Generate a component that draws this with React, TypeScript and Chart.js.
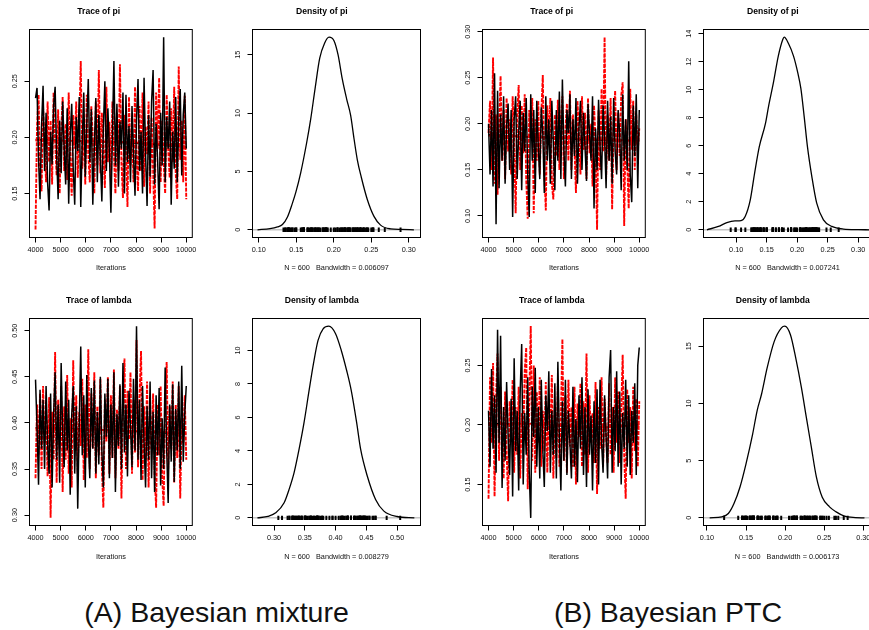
import React, { useEffect, useRef } from "react";
import { Chart, registerables } from "chart.js";

Chart.register(...registerables);

// ---------------- data ----------------
const ITERATIONS = Array.from({ length: 101 }, (_, i) => 4000 + 60 * i);
const SMOOTH_ITERATIONS = [4000, 5500, 7000, 8500, 10000];
const ITERATION_TICKS = [4000, 5000, 6000, 7000, 8000, 9000, 10000];

// (A) Bayesian mixture — pi
const A_PI_CHAIN1 = [0.235,0.244,0.180,0.145,0.210,0.246,0.170,0.222,0.160,0.135,
0.205,0.176,0.228,0.245,0.185,0.145,0.215,0.168,0.232,0.190,
0.158,0.226,0.141,0.200,0.230,0.172,0.140,0.218,0.188,0.236,
0.138,0.196,0.240,0.165,0.212,0.252,0.178,0.225,0.140,0.192,
0.235,0.160,0.220,0.182,0.143,0.208,0.250,0.170,0.226,0.188,
0.133,0.202,0.268,0.175,0.230,0.156,0.214,0.190,0.240,0.150,
0.238,0.178,0.210,0.160,0.228,0.186,0.148,0.215,0.252,0.170,
0.205,0.150,0.253,0.186,0.139,0.220,0.165,0.232,0.260,0.158,
0.212,0.180,0.136,0.222,0.175,0.289,0.160,0.218,0.190,0.232,
0.140,0.205,0.172,0.236,0.160,0.215,0.243,0.166,0.220,0.240,
0.190];
const A_PI_CHAIN2 = [0.118,0.210,0.238,0.172,0.152,0.228,0.195,0.160,0.232,0.178,
0.215,0.158,0.240,0.196,0.166,0.225,0.150,0.205,0.236,0.170,
0.212,0.162,0.240,0.182,0.148,0.220,0.190,0.232,0.164,0.210,
0.268,0.172,0.215,0.158,0.238,0.185,0.160,0.228,0.200,0.150,
0.232,0.175,0.260,0.168,0.222,0.190,0.155,0.245,0.178,0.214,
0.160,0.232,0.186,0.150,0.222,0.170,0.265,0.178,0.146,0.220,
0.192,0.138,0.236,0.175,0.210,0.160,0.245,0.186,0.152,0.228,
0.170,0.240,0.156,0.210,0.185,0.232,0.150,0.218,0.172,0.119,
0.240,0.190,0.253,0.160,0.215,0.178,0.150,0.238,0.190,0.164,
0.226,0.178,0.245,0.168,0.145,0.263,0.180,0.215,0.160,0.237,
0.145];
const A_PI_SMOOTH1 = [0.198, 0.197, 0.196, 0.194, 0.191];
const A_PI_SMOOTH2 = [0.197, 0.197, 0.196, 0.195, 0.192];
const A_PI_DENS_X = [0.0984,0.115,0.125,0.1316,0.1383,0.1445,0.1494,0.156,0.164,0.1693,0.1751,0.1813,0.1879,0.1937,0.2003,0.2057,0.2114,0.2172,0.2225,0.227,0.2314,0.2367,0.2447,0.2536,0.2624,0.2757,0.29,0.3068];
const A_PI_DENS_Y = [0,0.1,0.25,0.45,1.1,2.2,3.2,4.9,7.5,9.5,12.1,14.7,16.0,16.5,16.2,15.0,12.9,11.2,9.8,7.8,6.0,4.5,2.6,1.15,0.4,0.08,0.03,0];

// (A) Bayesian mixture — lambda
const A_LAMBDA_CHAIN1 = [0.447,0.395,0.333,0.436,0.372,0.425,0.350,0.440,0.378,0.345,
0.432,0.330,0.410,0.455,0.360,0.420,0.335,0.465,0.390,0.352,
0.445,0.370,0.425,0.322,0.408,0.440,0.345,0.418,0.307,0.400,
0.483,0.365,0.430,0.330,0.452,0.380,0.340,0.438,0.372,0.446,
0.345,0.412,0.355,0.450,0.370,0.330,0.432,0.385,0.448,0.340,
0.420,0.362,0.455,0.325,0.410,0.375,0.442,0.350,0.465,0.368,
0.420,0.342,0.435,0.395,0.352,0.448,0.370,0.505,0.360,0.425,
0.338,0.440,0.378,0.330,0.418,0.360,0.445,0.340,0.412,0.325,
0.430,0.365,0.438,0.332,0.405,0.350,0.460,0.372,0.313,0.420,
0.358,0.442,0.336,0.415,0.370,0.445,0.350,0.462,0.358,0.410,
0.440];
const A_LAMBDA_CHAIN2 = [0.340,0.420,0.365,0.432,0.350,0.440,0.378,0.415,0.342,0.428,
0.297,0.412,0.360,0.477,0.335,0.425,0.372,0.440,0.325,0.418,
0.360,0.452,0.345,0.405,0.330,0.468,0.370,0.430,0.345,0.412,
0.375,0.448,0.338,0.420,0.362,0.480,0.350,0.432,0.372,0.455,
0.340,0.418,0.365,0.448,0.352,0.308,0.425,0.380,0.450,0.345,
0.430,0.362,0.458,0.340,0.415,0.372,0.440,0.318,0.420,0.470,
0.350,0.435,0.382,0.455,0.345,0.425,0.368,0.490,0.352,0.430,
0.478,0.338,0.418,0.360,0.445,0.330,0.412,0.372,0.432,0.345,
0.308,0.420,0.365,0.440,0.340,0.310,0.425,0.466,0.350,0.418,
0.372,0.445,0.335,0.420,0.362,0.440,0.318,0.405,0.378,0.430,
0.360];
const A_LAMBDA_SMOOTH1 = [0.395, 0.394, 0.392, 0.390, 0.388];
const A_LAMBDA_SMOOTH2 = [0.394, 0.393, 0.392, 0.391, 0.389];
const A_LAMBDA_DENS_X = [0.273,0.29,0.3028,0.3164,0.3245,0.3326,0.3407,0.3488,0.3569,0.364,0.3715,0.38,0.389,0.4,0.4093,0.418,0.4255,0.4342,0.4407,0.4515,0.465,0.4785,0.5,0.528];
const A_LAMBDA_DENS_Y = [0,0.08,0.3,0.9,1.7,2.7,4.1,5.7,7.6,9.2,10.6,11.3,11.45,11.0,10.0,8.8,7.6,5.7,4.1,2.5,1.1,0.4,0.08,0];

// (B) Bayesian PTC — pi
const B_PI_CHAIN1 = [0.200,0.145,0.215,0.132,0.255,0.091,0.236,0.130,0.210,0.160,
0.230,0.135,0.198,0.222,0.150,0.215,0.099,0.205,0.230,0.140,
0.190,0.225,0.128,0.212,0.170,0.228,0.145,0.099,0.232,0.160,
0.215,0.125,0.225,0.175,0.140,0.218,0.190,0.125,0.230,0.160,
0.205,0.135,0.225,0.178,0.128,0.215,0.160,0.235,0.140,0.248,
0.170,0.132,0.215,0.190,0.232,0.140,0.205,0.165,0.228,0.135,
0.196,0.225,0.150,0.212,0.175,0.138,0.222,0.190,0.160,0.230,
0.108,0.195,0.150,0.226,0.175,0.140,0.220,0.185,0.130,0.225,
0.160,0.208,0.135,0.228,0.170,0.145,0.215,0.190,0.128,0.232,
0.160,0.205,0.150,0.268,0.145,0.115,0.220,0.165,0.232,0.130,
0.215];
const B_PI_CHAIN2 = [0.190,0.225,0.150,0.272,0.135,0.210,0.123,0.198,0.252,0.160,
0.215,0.140,0.228,0.170,0.205,0.145,0.230,0.180,0.103,0.210,
0.242,0.150,0.220,0.168,0.232,0.140,0.097,0.215,0.185,0.228,
0.103,0.205,0.160,0.225,0.145,0.210,0.253,0.150,0.106,0.220,
0.180,0.228,0.135,0.118,0.210,0.165,0.226,0.150,0.205,0.230,
0.140,0.195,0.222,0.160,0.236,0.150,0.210,0.175,0.125,0.225,
0.190,0.145,0.230,0.172,0.212,0.140,0.228,0.168,0.200,0.132,
0.220,0.180,0.085,0.215,0.150,0.238,0.170,0.294,0.140,0.210,
0.160,0.228,0.107,0.200,0.236,0.150,0.212,0.165,0.230,0.245,
0.089,0.205,0.160,0.108,0.238,0.172,0.225,0.150,0.210,0.170,
0.195];
const B_PI_SMOOTH1 = [0.188, 0.186, 0.184, 0.182, 0.182];
const B_PI_SMOOTH2 = [0.187, 0.186, 0.185, 0.183, 0.181];
const B_PI_DENS_X = [0.052,0.071,0.0847,0.098,0.108,0.1147,0.1229,0.13,0.1377,0.148,0.153,0.161,0.169,0.1765,0.1786,0.1857,0.194,0.201,0.206,0.2114,0.2169,0.224,0.232,0.243,0.2568,0.276,0.30,0.318];
const B_PI_DENS_Y = [0,0.24,0.52,0.64,0.66,0.95,2.1,4.0,5.9,7.6,8.8,10.5,12.4,13.6,13.75,13.3,12.4,11.2,10.1,8.1,5.9,3.8,1.9,0.71,0.24,0.05,0.01,0];

// (B) Bayesian PTC — lambda
const B_LAMBDA_CHAIN1 = [0.212,0.165,0.247,0.180,0.225,0.160,0.280,0.185,0.275,0.147,
0.215,0.170,0.236,0.190,0.158,0.222,0.140,0.256,0.178,0.212,
0.145,0.228,0.268,0.150,0.210,0.175,0.240,0.160,0.122,0.232,
0.190,0.248,0.165,0.215,0.155,0.238,0.180,0.148,0.225,0.195,
0.245,0.160,0.212,0.175,0.235,0.155,0.253,0.188,0.145,0.220,
0.170,0.238,0.158,0.212,0.185,0.155,0.232,0.165,0.205,0.152,
0.225,0.180,0.240,0.158,0.215,0.148,0.230,0.175,0.208,0.145,
0.220,0.168,0.230,0.150,0.238,0.185,0.160,0.225,0.190,0.155,
0.240,0.263,0.160,0.215,0.178,0.245,0.165,0.228,0.150,0.210,
0.180,0.238,0.165,0.225,0.158,0.212,0.185,0.235,0.158,0.250,
0.265];
const B_LAMBDA_CHAIN2 = [0.138,0.240,0.185,0.252,0.140,0.225,0.260,0.170,0.232,0.190,
0.155,0.228,0.178,0.136,0.220,0.190,0.238,0.160,0.215,0.175,
0.232,0.155,0.210,0.185,0.245,0.265,0.146,0.220,0.283,0.170,
0.250,0.160,0.228,0.185,0.240,0.165,0.212,0.178,0.236,0.160,
0.220,0.190,0.242,0.155,0.215,0.172,0.235,0.165,0.205,0.272,
0.170,0.225,0.160,0.238,0.182,0.215,0.165,0.232,0.150,0.218,
0.190,0.235,0.165,0.220,0.175,0.260,0.160,0.225,0.185,0.210,
0.168,0.236,0.142,0.215,0.180,0.240,0.165,0.222,0.190,0.168,
0.235,0.175,0.215,0.160,0.240,0.185,0.228,0.168,0.210,0.259,
0.175,0.138,0.230,0.185,0.215,0.155,0.232,0.178,0.222,0.165,
0.220];
const B_LAMBDA_SMOOTH1 = [0.201, 0.2015, 0.199, 0.198, 0.2005];
const B_LAMBDA_SMOOTH2 = [0.200, 0.201, 0.200, 0.198, 0.200];
const B_LAMBDA_DENS_X = [0.1035,0.119,0.1274,0.1346,0.1423,0.1499,0.1584,0.1643,0.1698,0.177,0.186,0.1953,0.1995,0.2068,0.2135,0.2208,0.2271,0.2335,0.2399,0.2475,0.2568,0.2653,0.2759,0.29,0.3015];
const B_LAMBDA_DENS_Y = [0,0.09,0.38,1.25,2.7,4.7,7.3,9.4,10.8,13.1,15.4,16.6,16.75,16.0,14.0,11.4,8.8,6.2,3.6,1.8,0.96,0.52,0.14,0.02,0];

// tick values
const A_PI_TRACE_TICKS = [0.15, 0.2, 0.25];
const B_PI_TRACE_TICKS = [0.1, 0.15, 0.2, 0.25, 0.3];
const A_LAMBDA_TRACE_TICKS = [0.3, 0.35, 0.4, 0.45, 0.5];
const B_LAMBDA_TRACE_TICKS = [0.15, 0.2, 0.25];
const PI_DENS_X_TICKS = [0.1, 0.15, 0.2, 0.25, 0.3];
const A_LAMBDA_DENS_X_TICKS = [0.3, 0.35, 0.4, 0.45, 0.5];
const B_LAMBDA_DENS_X_TICKS = [0.1, 0.15, 0.2, 0.25, 0.3];
const A_PI_DENS_Y_TICKS = [0, 5, 10, 15];
const B_PI_DENS_Y_TICKS = [0, 2, 4, 6, 8, 10, 12, 14];
const A_LAMBDA_DENS_Y_TICKS = [0, 2, 4, 6, 8, 10];
const B_LAMBDA_DENS_Y_TICKS = [0, 5, 10, 15];

// ---------------- layout / style ----------------
const FONT = '"Liberation Sans", Arial, Helvetica, sans-serif';
const TICK_SIZE = 7.3;
const TITLE_SIZE = 8.6;
const COL_LEFT = [29, 252, 482, 703];
const ROW_TOP = [29, 318];
const BOX_W = 168;
const BOX_H = [208, 207];
const CANVAS_W = 200;
const CANVAS_H = 280;
const AXIS_W = 29.5;
const TITLE_H = 29.5;

type Panel = {
  kind: "trace" | "density";
  title: string;
  xlab: string;
  col: number;
  row: number;
  xRange: number[];
  yRange: number[];
  xTicks: number[];
  yTicks: number[];
  xDec: number;
  yDec: number;
  chain1?: number[];
  chain2?: number[];
  smooth1?: number[];
  smooth2?: number[];
  densX?: number[];
  densY?: number[];
  rug?: number[];
};

const PANELS: Panel[] = [
  { kind: "trace", title: "Trace of pi", xlab: "Iterations", col: 0, row: 0, xRange: [3760, 10240], yRange: [0.1109, 0.296], xTicks: ITERATION_TICKS, yTicks: A_PI_TRACE_TICKS, xDec: 0, yDec: 2, chain1: A_PI_CHAIN1, chain2: A_PI_CHAIN2, smooth1: A_PI_SMOOTH1, smooth2: A_PI_SMOOTH2 },
  { kind: "density", title: "Density of pi", xlab: "N = 600   Bandwidth = 0.006097", col: 1, row: 0, xRange: [0.0917, 0.3156], yRange: [-0.66, 17.16], xTicks: PI_DENS_X_TICKS, yTicks: A_PI_DENS_Y_TICKS, xDec: 2, yDec: 0, densX: A_PI_DENS_X, densY: A_PI_DENS_Y, rug: A_PI_CHAIN1 },
  { kind: "trace", title: "Trace of pi", xlab: "Iterations", col: 2, row: 0, xRange: [3760, 10240], yRange: [0.0766, 0.3024], xTicks: ITERATION_TICKS, yTicks: B_PI_TRACE_TICKS, xDec: 0, yDec: 2, chain1: B_PI_CHAIN1, chain2: B_PI_CHAIN2, smooth1: B_PI_SMOOTH1, smooth2: B_PI_SMOOTH2 },
  { kind: "density", title: "Density of pi", xlab: "N = 600   Bandwidth = 0.007241", col: 3, row: 0, xRange: [0.0464, 0.3218], yRange: [-0.55, 14.3], xTicks: PI_DENS_X_TICKS, yTicks: B_PI_DENS_Y_TICKS, xDec: 2, yDec: 0, densX: B_PI_DENS_X, densY: B_PI_DENS_Y, rug: B_PI_CHAIN1 },
  { kind: "trace", title: "Trace of lambda", xlab: "Iterations", col: 0, row: 1, xRange: [3760, 10240], yRange: [0.2887, 0.5133], xTicks: ITERATION_TICKS, yTicks: A_LAMBDA_TRACE_TICKS, xDec: 0, yDec: 2, chain1: A_LAMBDA_CHAIN1, chain2: A_LAMBDA_CHAIN2, smooth1: A_LAMBDA_SMOOTH1, smooth2: A_LAMBDA_SMOOTH2 },
  { kind: "density", title: "Density of lambda", xlab: "N = 600   Bandwidth = 0.008279", col: 1, row: 1, xRange: [0.265, 0.538], yRange: [-0.458, 11.908], xTicks: A_LAMBDA_DENS_X_TICKS, yTicks: A_LAMBDA_DENS_Y_TICKS, xDec: 2, yDec: 0, densX: A_LAMBDA_DENS_X, densY: A_LAMBDA_DENS_Y, rug: A_LAMBDA_CHAIN1 },
  { kind: "trace", title: "Trace of lambda", xlab: "Iterations", col: 2, row: 1, xRange: [3760, 10240], yRange: [0.1156, 0.2894], xTicks: ITERATION_TICKS, yTicks: B_LAMBDA_TRACE_TICKS, xDec: 0, yDec: 2, chain1: B_LAMBDA_CHAIN1, chain2: B_LAMBDA_CHAIN2, smooth1: B_LAMBDA_SMOOTH1, smooth2: B_LAMBDA_SMOOTH2 },
  { kind: "density", title: "Density of lambda", xlab: "N = 600   Bandwidth = 0.006173", col: 3, row: 1, xRange: [0.0956, 0.3094], yRange: [-0.67, 17.42], xTicks: B_LAMBDA_DENS_X_TICKS, yTicks: B_LAMBDA_DENS_Y_TICKS, xDec: 2, yDec: 0, densX: B_LAMBDA_DENS_X, densY: B_LAMBDA_DENS_Y, rug: B_LAMBDA_CHAIN1 },
];

function PanelChart({ p }: { p: Panel }) {
  const ref = useRef<HTMLCanvasElement>(null);
  const boxH = BOX_H[p.row];
  const left = COL_LEFT[p.col] - 29;
  const top = ROW_TOP[p.row] - 29;

  useEffect(() => {
    const canvas = ref.current;
    if (!canvas) return;
    const datasets: any[] = [];
    if (p.kind === "trace") {
      datasets.push({
        data: ITERATIONS.map((t, i) => ({ x: t, y: p.chain1![i] })),
        showLine: true, borderColor: "#000000", borderWidth: 1.5, pointRadius: 0, tension: 0,
      });
      datasets.push({
        data: ITERATIONS.map((t, i) => ({ x: t, y: p.chain2![i] })),
        showLine: true, borderColor: "#ff0000", borderWidth: 1.9, borderDash: [4, 1.2], pointRadius: 0, tension: 0,
      });
      datasets.push({
        data: SMOOTH_ITERATIONS.map((t, i) => ({ x: t, y: p.smooth2![i] })),
        showLine: true, borderColor: "#ff0000", borderWidth: 1.6, pointRadius: 0, cubicInterpolationMode: "monotone",
      });
      datasets.push({
        data: SMOOTH_ITERATIONS.map((t, i) => ({ x: t, y: p.smooth1![i] })),
        showLine: true, borderColor: "#000000", borderWidth: 1.6, pointRadius: 0, cubicInterpolationMode: "monotone",
      });
    } else {
      datasets.push({
        data: p.rug!.map((v) => ({ x: v, y: 0 })),
        showLine: false, pointStyle: "line", rotation: 90, pointRadius: 2.2,
        borderColor: "#000000", backgroundColor: "#000000", borderWidth: 2,
      });
      datasets.push({
        data: p.densX!.map((x, i) => ({ x, y: p.densY![i] })),
        showLine: true, borderColor: "#000000", borderWidth: 1.3, pointRadius: 0, cubicInterpolationMode: "monotone",
      });
    }

    const rStyle = {
      id: "rStyle",
      beforeDatasetsDraw(chart: any) {
        if (p.kind !== "density") return;
        const { ctx, chartArea } = chart;
        const y0 = chart.scales.y.getPixelForValue(0);
        ctx.save();
        ctx.strokeStyle = "#c4c4c4";
        ctx.lineWidth = 1.5;
        ctx.beginPath();
        ctx.moveTo(chartArea.left, y0);
        ctx.lineTo(chartArea.right, y0);
        ctx.stroke();
        ctx.restore();
      },
      afterDraw(chart: any) {
        const { ctx, chartArea } = chart;
        ctx.save();
        ctx.strokeStyle = "#000000";
        ctx.lineWidth = 1;
        ctx.strokeRect(chartArea.left, chartArea.top, chartArea.right - chartArea.left, chartArea.bottom - chartArea.top);
        ctx.fillStyle = "#111111";
        ctx.font = `${TICK_SIZE}px ${FONT}`;
        ctx.textAlign = "center";
        ctx.textBaseline = "middle";
        const ys = chart.scales.y;
        p.yTicks.forEach((v) => {
          const py = ys.getPixelForValue(v);
          ctx.save();
          ctx.translate(chartArea.left - 14.5, py);
          ctx.rotate(-Math.PI / 2);
          ctx.fillText(v.toFixed(p.yDec), 0, 0);
          ctx.restore();
        });
        ctx.restore();
      },
    };

    const gridOpts = {
      display: true, drawOnChartArea: false, drawTicks: true, tickLength: 5, color: "#000000", lineWidth: 1,
    };

    const chart = new Chart(canvas, {
      type: "scatter",
      data: { datasets },
      options: {
        animation: false,
        responsive: false,
        devicePixelRatio: 1,
        events: [],
        layout: { padding: { left: 0, top: 0, right: CANVAS_W - AXIS_W - BOX_W, bottom: 0 }, autoPadding: false },
        plugins: {
          legend: { display: false },
          tooltip: { enabled: false },
          title: {
            display: true, text: p.title, color: "#000000",
            font: { family: FONT, size: TITLE_SIZE, weight: "bold", lineHeight: 1.2 },
            padding: { top: 6, bottom: TITLE_H - 6 - TITLE_SIZE * 1.2 },
          },
        },
        scales: {
          x: {
            type: "linear", position: "bottom", min: p.xRange[0], max: p.xRange[1],
            afterBuildTicks: (s: any) => { s.ticks = p.xTicks.map((v) => ({ value: v })); },
            afterFit: (s: any) => { s.height = CANVAS_H - TITLE_H - boxH; },
            ticks: {
              font: { family: FONT, size: TICK_SIZE }, color: "#111111", padding: 3.5,
              maxRotation: 0, minRotation: 0, autoSkip: false,
              callback: (v: any) => Number(v).toFixed(p.xDec),
            },
            grid: gridOpts,
            border: { display: false },
            title: {
              display: true, text: p.xlab, color: "#111111",
              font: { family: FONT, size: TICK_SIZE, lineHeight: 1.2 },
              padding: { top: 0, bottom: 7.9 },
            },
          },
          y: {
            type: "linear", position: "left", min: p.yRange[0], max: p.yRange[1],
            afterBuildTicks: (s: any) => { s.ticks = p.yTicks.map((v) => ({ value: v })); },
            afterFit: (s: any) => { s.width = AXIS_W; },
            ticks: { display: false },
            grid: gridOpts,
            border: { display: false },
          },
        },
      } as any,
      plugins: [rStyle],
    });
    return () => chart.destroy();
  }, [p]);

  return (
    <canvas
      ref={ref}
      width={CANVAS_W}
      height={CANVAS_H}
      style={{ position: "absolute", left, top, width: CANVAS_W, height: CANVAS_H }}
    />
  );
}

const CAPTIONS = ["(A) Bayesian mixture", "(B) Bayesian PTC"];
const CAPTION_CENTERS = [216.5, 668];

export default function App() {
  return (
    <div
      style={{
        position: "absolute", left: 0, top: 0, width: 869, height: 630,
        overflow: "hidden", background: "#ffffff",
      }}
    >
      {PANELS.map((p, i) => (
        <PanelChart key={i} p={p} />
      ))}
      {CAPTIONS.map((c, i) => (
        <div
          key={c}
          style={{
            position: "absolute", left: CAPTION_CENTERS[i] - 200, top: 595, width: 400,
            textAlign: "center", fontFamily: FONT, fontSize: 28.5, lineHeight: "34px", color: "#111111",
            whiteSpace: "nowrap",
          }}
        >
          {c}
        </div>
      ))}
    </div>
  );
}
